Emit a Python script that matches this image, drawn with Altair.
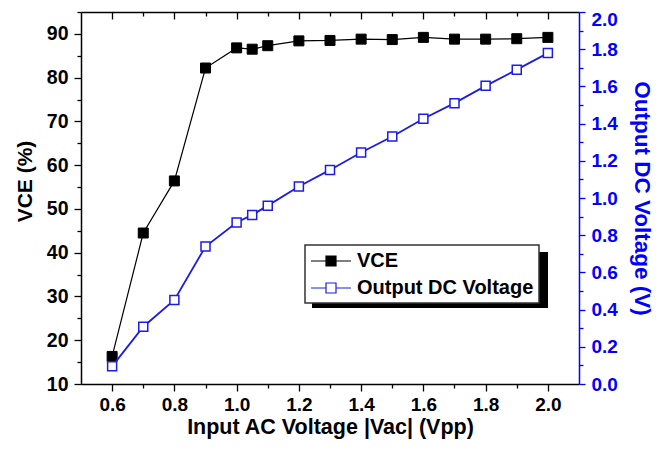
import altair as alt
import pandas as pd

# ---- data ----
x_vals = [0.6, 0.7, 0.8, 0.9, 1.0, 1.05, 1.1, 1.2, 1.3, 1.4, 1.5, 1.6, 1.7, 1.8, 1.9, 2.0]
vce_vals = [16.3, 44.5, 56.4, 82.2, 86.8, 86.5, 87.3, 88.4, 88.5, 88.8, 88.7, 89.2, 88.8, 88.8, 88.9, 89.2]
dc_vals = [0.095, 0.308, 0.452, 0.739, 0.868, 0.909, 0.959, 1.062, 1.151, 1.245, 1.331, 1.426, 1.510, 1.603, 1.690, 1.779]
series_names = ["VCE", "Output DC Voltage"]

x_ticks = [0.6, 0.7, 0.8, 0.9, 1.0, 1.1, 1.2, 1.3, 1.4, 1.5, 1.6, 1.7, 1.8, 1.9, 2.0]
left_ticks = [10, 15, 20, 25, 30, 35, 40, 45, 50, 55, 60, 65, 70, 75, 80, 85, 90, 95]
right_ticks = [0.0, 0.1, 0.2, 0.3, 0.4, 0.5, 0.6, 0.7, 0.8, 0.9, 1.0, 1.1, 1.2, 1.3, 1.4,
               1.5, 1.6, 1.7, 1.8, 1.9, 2.0]

FONT = "Liberation Sans, Arial, Helvetica, sans-serif"
BLUE_AX = "#0000ff"
BLUE = "#1c1ce6"
W, H = 498, 372

df_vce = pd.DataFrame({"x": x_vals, "y": vce_vals, "series": series_names[0]})
df_dc = pd.DataFrame({"x": x_vals, "y": dc_vals, "series": series_names[1]})

even_test = "round(datum.value*10) % 2 == 0"

x_scale = alt.Scale(domain=[0.5, 2.1], nice=False, zero=False)

ax_bottom = alt.Axis(
    orient="bottom", values=x_ticks, grid=False,
    labelExpr=f"{even_test} ? format(datum.value, '.1f') : ''",
    labelFont=FONT, labelFontSize=19, labelFontWeight="bold", labelColor="black",
    labelPadding=4, labelOverlap=False,
    tickColor="black", tickWidth=1.3,
    tickSize={"condition": {"test": even_test, "value": 7}, "value": 4},
    domainColor="black", domainWidth=1.5,
    title="Input AC Voltage |Vac| (Vpp)", titleFont=FONT, titleFontSize=21.5,
    titleFontWeight="bold", titleColor="black", titlePadding=2,
)
ax_top = alt.Axis(
    orient="bottom", offset=-H, values=x_ticks, grid=False, labels=False, title=None,
    tickColor="black", tickWidth=1.3,
    tickSize={"condition": {"test": even_test, "value": 7}, "value": 4},
    domainColor="black", domainWidth=1.5,
)
ax_left = alt.Axis(
    orient="left", values=left_ticks, grid=False,
    labelExpr="datum.value % 10 == 0 ? format(datum.value, 'd') : ''",
    labelFont=FONT, labelFontSize=19.5, labelFontWeight="bold", labelColor="black",
    labelPadding=6, labelOverlap=False,
    tickColor="black", tickWidth=1.3,
    tickSize={"condition": {"test": "datum.value % 10 == 0", "value": 7}, "value": 4},
    domainColor="black", domainWidth=1.5,
    title="VCE (%)", titleFont=FONT, titleFontSize=21, titleFontWeight="bold",
    titleColor="black", titlePadding=11, titleAnchor="middle", titleY=169, titleAlign="center",
)
ax_right = alt.Axis(
    orient="right", values=right_ticks, grid=False,
    labelExpr=f"{even_test} ? format(datum.value, '.1f') : ''",
    labelFont=FONT, labelFontSize=19, labelFontWeight="bold", labelColor=BLUE_AX,
    labelPadding=6, labelOverlap=False,
    labelOffset={"condition": {"test": "datum.value >= 1.99", "value": 7}, "value": 0},
    tickColor=BLUE_AX, tickWidth=1.3,
    tickSize={"condition": {"test": even_test, "value": 6}, "value": 4},
    domainColor=BLUE_AX, domainWidth=1.5,
    title="Output DC Voltage (V)", titleFont=FONT, titleFontSize=22.5,
    titleFontWeight="bold", titleColor=BLUE_AX, titlePadding=12,
)

legend = alt.Legend(
    orient="none", legendX=224, legendY=233, title=None,
    symbolType="M-1,0H0.5M1.5,0H3M0.5,-0.5H1.5V0.5H0.5Z",
    symbolSize=400, symbolStrokeWidth=1.2, symbolOpacity=1,
    labelFont=FONT, labelFontSize=20, labelFontWeight="bold", labelColor="black",
    labelOffset=25, labelLimit=400, padding=5, rowPadding=6,
    strokeColor="#333333", fillColor="white",
)

stroke_scale = alt.Scale(domain=series_names, range=["black", BLUE])
fill_scale = alt.Scale(domain=series_names, range=["black", "white"])

stroke_enc = alt.Stroke("series:N", scale=stroke_scale, legend=legend)
fill_enc = alt.Fill("series:N", scale=fill_scale, legend=legend)

y_left = alt.Y("y:Q", scale=alt.Scale(domain=[10, 95], nice=False, zero=False), axis=ax_left)
y_right = alt.Y("y:Q", scale=alt.Scale(domain=[0, 2.0], nice=False, zero=False), axis=ax_right)

vce_line = alt.Chart(df_vce).mark_line(strokeWidth=1.2).encode(
    x=alt.X("x:Q", scale=x_scale, axis=ax_bottom), y=y_left, stroke=stroke_enc)
vce_pts = alt.Chart(df_vce).mark_point(shape="square", size=100, filled=True,
                                       strokeWidth=1, opacity=1).encode(
    x=alt.X("x:Q", scale=x_scale, axis=ax_bottom), y=y_left, stroke=stroke_enc, fill=fill_enc)

dc_line = alt.Chart(df_dc).mark_line(strokeWidth=1.8).encode(
    x=alt.X("x:Q", scale=x_scale, axis=ax_top), y=y_right, stroke=stroke_enc)
dc_pts = alt.Chart(df_dc).mark_point(shape="square", size=81, filled=True,
                                     strokeWidth=1.5, opacity=1).encode(
    x=alt.X("x:Q", scale=x_scale, axis=ax_top), y=y_right, stroke=stroke_enc, fill=fill_enc)

shadow = alt.Chart(alt.Data(values=[{"k": 1}])).mark_rect(color="black").encode(
    x=alt.value(231), x2=alt.value(467), y=alt.value(240), y2=alt.value(296))

left_layer = alt.layer(vce_line, vce_pts)
right_layer = alt.layer(dc_line, dc_pts)

chart = alt.layer(shadow, left_layer, right_layer).resolve_scale(
    y="independent"
).resolve_axis(
    x="independent", y="independent"
).properties(
    width=W, height=H,
    autosize=alt.AutoSizeParams(type="none"),
    padding={"left": 73, "top": 4, "right": 80, "bottom": 60},
).configure_view(stroke=None).configure_legend(strokeWidth=1.5)

chart.save("out.html", embed_options={"renderer": "svg", "actions": False})
